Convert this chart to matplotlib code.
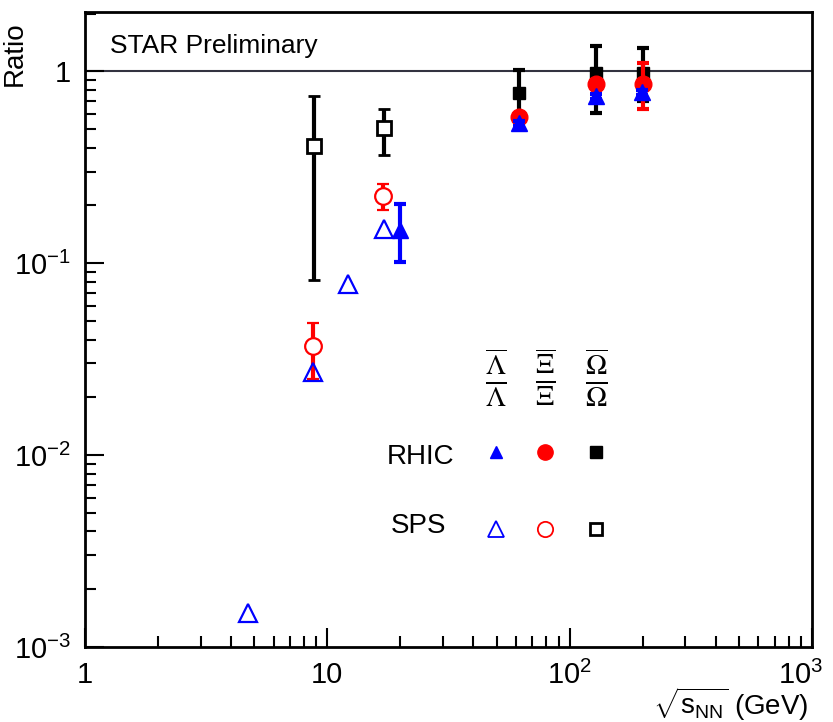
import matplotlib
matplotlib.use("Agg")
import matplotlib.pyplot as plt
import matplotlib.transforms as mtransforms
from matplotlib.ticker import FixedLocator, FuncFormatter, NullFormatter
import numpy as np

plt.rcParams['font.family'] = ['Liberation Sans', 'DejaVu Sans']
plt.rcParams['mathtext.fontset'] = 'custom'
plt.rcParams['mathtext.rm'] = 'Liberation Sans'
plt.rcParams['mathtext.it'] = 'Liberation Sans'
plt.rcParams['mathtext.sf'] = 'Liberation Sans'

# ---- data ----
# SPS (open symbols)
sps_lam_x = [4.7, 8.7, 12.2, 17.2]
sps_lam_y = [0.0015, 0.027, 0.078, 0.150]

sps_xi_x = [8.7, 17.0]
sps_xi_y = [0.037, 0.223]
sps_xi_lo = [0.025, 0.189]
sps_xi_hi = [0.049, 0.258]

sps_om_x = [8.8, 17.2]
sps_om_y = [0.41, 0.505]
sps_om_lo = [0.082, 0.365]
sps_om_hi = [0.74, 0.634]

# RHIC (filled symbols)
rhic_lam_x = [20.0, 62.0, 128.0, 198.0]
rhic_lam_y = [0.149, 0.536, 0.741, 0.777]
rhic_lam_lo = [0.102, 0.52, 0.72, 0.755]
rhic_lam_hi = [0.203, 0.55, 0.76, 0.80]

rhic_xi_x = [62.0, 128.0, 200.0]
rhic_xi_y = [0.576, 0.856, 0.856]
rhic_xi_lo = [0.55, 0.82, 0.634]
rhic_xi_hi = [0.60, 0.89, 1.10]

rhic_om_x = [62.0, 128.0, 200.0]
rhic_om_y = [0.768, 0.976, 0.976]
rhic_om_lo = [0.58, 0.604, 0.70]
rhic_om_hi = [1.01, 1.35, 1.32]


def yerr(y, lo, hi):
    y = np.array(y)
    return [y - np.array(lo), np.array(hi) - y]


fig = plt.figure(figsize=(8.33, 7.22), dpi=100)
ax = fig.add_axes([0.102, 0.104, 0.873, 0.879])
ax.set_xscale('log')
ax.set_yscale('log')
ax.set_xlim(1, 1000)
ax.set_ylim(1e-3, 2.03)

ax.axhline(1, color='#333340', lw=1.5, zorder=1)

eb = dict(elinewidth=3, capsize=4, capthick=3, ls='none')

# SPS
ax.errorbar(sps_om_x, sps_om_y, yerr=yerr(sps_om_y, sps_om_lo, sps_om_hi),
            marker='s', ms=10, mfc='white', mec='black', mew=2, color='black', zorder=3, **eb)
ax.errorbar(sps_xi_x, sps_xi_y, yerr=yerr(sps_xi_y, sps_xi_lo, sps_xi_hi),
            marker='o', ms=12, mfc='white', mec='red', mew=1.6, color='red', zorder=4, **eb)
ax.plot(sps_lam_x, sps_lam_y, ls='none', marker='^', ms=13, mfc='none', mec='blue', mew=1.6, zorder=5)

# RHIC
ax.errorbar(rhic_om_x, rhic_om_y, yerr=yerr(rhic_om_y, rhic_om_lo, rhic_om_hi),
            marker='s', ms=9, color='black', zorder=3, **eb)
ax.errorbar(rhic_xi_x, rhic_xi_y, yerr=yerr(rhic_xi_y, rhic_xi_lo, rhic_xi_hi),
            marker='o', ms=12, color='red', zorder=4, **eb)
ax.errorbar(rhic_lam_x, rhic_lam_y, yerr=yerr(rhic_lam_y, rhic_lam_lo, rhic_lam_hi),
            marker='^', ms=11, color='blue', zorder=5, **eb)

# ticks, ROOT style
ax.tick_params(which='both', direction='in', width=1.5, labelsize=21, pad=10)
ax.tick_params(which='major', length=14)
ax.tick_params(which='minor', length=8)
ax.tick_params(axis='x', which='both', top=False)
ax.tick_params(axis='y', which='both', right=False)

xlabels = {1: '1', 10: '10', 100: r'$10^{2}$', 1000: r'$10^{3}$'}
ylabels = {1e-3: r'$10^{-3}$', 1e-2: r'$10^{-2}$', 1e-1: r'$10^{-1}$', 1: '1'}
ax.xaxis.set_major_locator(FixedLocator([1, 10, 100, 1000]))
ax.yaxis.set_major_locator(FixedLocator([1e-3, 1e-2, 1e-1, 1]))
ax.xaxis.set_major_formatter(FuncFormatter(lambda v, p: xlabels.get(round(v, 6), '')))
ax.yaxis.set_major_formatter(FuncFormatter(lambda v, p: ylabels.get(round(v, 6), '')))
ax.xaxis.set_minor_formatter(NullFormatter())
ax.yaxis.set_minor_formatter(NullFormatter())

for s in ax.spines.values():
    s.set_linewidth(2)

ax.set_ylabel('Ratio', fontsize=20)
ax.yaxis.set_label_coords(-0.078, 0.935)
ax.set_xlabel(r'$\sqrt{s_{NN}}$ (GeV)', fontsize=20)
ax.xaxis.set_label_coords(0.995, -0.062)
ax.xaxis.label.set_horizontalalignment('right')
ax.xaxis.label.set_verticalalignment('top')

ax.text(0.035, 0.965, 'STAR Preliminary', transform=ax.transAxes, fontsize=19,
        ha='left', va='top')

# legend drawn by hand
lab_x = [0.565, 0.632, 0.703]
fracs = [r'$\frac{\overline{\Lambda}}{\Lambda}$', r'$\frac{\overline{\Xi}}{\Xi}$',
         r'$\frac{\overline{\Omega}}{\Omega}$']
for xx, t in zip(lab_x, fracs):
    ax.text(xx, 0.425, t, transform=ax.transAxes, fontsize=29, ha='center', va='center',
            math_fontfamily='stix')
ax.text(0.415, 0.30, 'RHIC', transform=ax.transAxes, fontsize=20, ha='left', va='center')
ax.text(0.42, 0.19, 'SPS', transform=ax.transAxes, fontsize=20, ha='left', va='center')
ax.plot([lab_x[0]], [0.307], transform=ax.transAxes, marker='^', ms=9, color='blue', ls='none')
ax.plot([lab_x[1]], [0.307], transform=ax.transAxes, marker='o', ms=11, color='red', ls='none')
ax.plot([lab_x[2]], [0.307], transform=ax.transAxes, marker='s', ms=8, color='black', ls='none')
ax.plot([lab_x[0]], [0.186], transform=ax.transAxes, marker='^', ms=12, mfc='none', mec='blue', mew=1.3, ls='none')
ax.plot([lab_x[1]], [0.186], transform=ax.transAxes, marker='o', ms=11, mfc='none', mec='red', mew=1.3, ls='none')
ax.plot([lab_x[2]], [0.186], transform=ax.transAxes, marker='s', ms=9, mfc='none', mec='black', mew=2, ls='none')

# nudge the last x tick label so it stays inside the figure
fig.canvas.draw()
last = ax.xaxis.get_major_ticks()[-1].label1
last.set_transform(last.get_transform() + mtransforms.ScaledTranslation(-0.12, 0, fig.dpi_scale_trans))

fig.savefig('out.png', dpi=100)
